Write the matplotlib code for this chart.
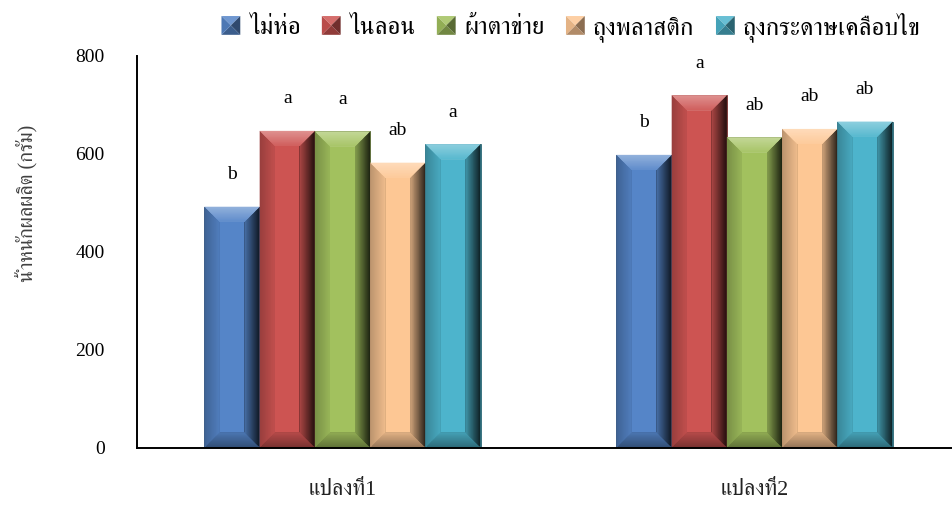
import matplotlib
matplotlib.use("Agg")
import matplotlib.pyplot as plt
import numpy as np
from matplotlib.patches import Polygon, Rectangle
from matplotlib.legend_handler import HandlerBase
from matplotlib.colors import to_rgb

# ---- data -------------------------------------------------------------
plots = ["แปลงที่1", "แปลงที่2"]
treatments = ["ไม่ห่อ", "ไนลอน", "ผ้าตาข่าย", "ถุงพลาสติก", "ถุงกระดาษเคลือบไข"]

no_wrap = [492, 598]
nylon = [647, 720]
mesh_net = [646, 634]
plastic_bag = [582, 651]
waxed_paper_bag = [620, 666]

no_wrap_sig = ["b", "b"]
nylon_sig = ["a", "a"]
mesh_net_sig = ["a", "ab"]
plastic_bag_sig = ["ab", "ab"]
waxed_paper_bag_sig = ["a", "ab"]

yticks = [0, 200, 400, 600, 800]
ylabel = "น้ำหนักผลผลิต (กรัม)"

series = [no_wrap, nylon, mesh_net, plastic_bag, waxed_paper_bag]
sigs = [no_wrap_sig, nylon_sig, mesh_net_sig, plastic_bag_sig, waxed_paper_bag_sig]
colors = ["#5585C8", "#CD5452", "#A2C15E", "#FDC794", "#4DB4CC"]

FONT = ["Liberation Serif", "FreeSerif"]
plt.rcParams["font.family"] = FONT


def mix(c, target, t):
    c = np.array(to_rgb(c))
    target = np.array(to_rgb(target))
    return tuple(c * (1 - t) + target * t)


# ---- figure -----------------------------------------------------------
W, H, DPI = 952, 505, 100
fig = plt.figure(figsize=(W / DPI, H / DPI), dpi=DPI)
left_px, right_px, top_px, bottom_px = 136.5, 960.5, 56.0, 447.5
ax = fig.add_axes([left_px / W, (H - bottom_px) / H,
                   (right_px - left_px) / W, (bottom_px - top_px) / H])

ax.set_xlim(-0.5, len(plots) - 0.5)
ax.set_ylim(0, 800)

bw = 0.134
x = np.arange(len(plots))
n = len(series)
bars_all = []
for j, (vals, col) in enumerate(zip(series, colors)):
    pos = x + (j - (n - 1) / 2) * bw
    bars = ax.bar(pos, vals, width=bw, color=col,
                  edgecolor=mix(col, "black", 0.45), linewidth=0.6, zorder=2)
    bars_all.append((bars, col))
    for xi, v, s in zip(pos, vals, sigs[j]):
        ax.annotate(s, (xi, v), xytext=(0, 23), textcoords="offset points",
                    ha="center", va="center", fontsize=14, color="black")

# bevel shading on each bar, built in pixel space
inv = ax.transData.inverted()
steps = 12
for bars, col in bars_all:
    for r in bars:
        (x0, y0) = ax.transData.transform((r.get_x(), r.get_y()))
        (x1, y1) = ax.transData.transform((r.get_x() + r.get_width(),
                                           r.get_y() + r.get_height()))
        w = min(15.0, (x1 - x0) / 2, (y1 - y0) / 2)
        for k in range(steps):
            d = w * k / steps
            f = 1 - k / steps
            bands = [
                ([(x0 + d, y0 + d), (x1 - d, y0 + d), (x1 - w, y0 + w), (x0 + w, y0 + w)],
                 mix(col, "black", 0.10 + 0.30 * f)),
                ([(x0 + d, y0 + d), (x0 + d, y1 - d), (x0 + w, y1 - w), (x0 + w, y0 + w)],
                 mix(col, "black", 0.05 + 0.20 * f)),
                ([(x1 - d, y1 - d), (x1 - d, y0 + d), (x1 - w, y0 + w), (x1 - w, y1 - w)],
                 mix(col, "black", 0.15 + 0.65 * f)),
                ([(x0 + d, y1 - d), (x1 - d, y1 - d), (x1 - w, y1 - w), (x0 + w, y1 - w)],
                 mix(col, "white", 0.05 + 0.30 * f)),
            ]
            for pts, c in bands:
                ax.add_patch(Polygon(inv.transform(pts), closed=True, facecolor=c,
                                     edgecolor="none", zorder=3))

# ---- axes styling -----------------------------------------------------
for s in ["top", "right"]:
    ax.spines[s].set_visible(False)
for s in ["left", "bottom"]:
    ax.spines[s].set_linewidth(1.4)
    ax.spines[s].set_color("black")
    ax.spines[s].set_zorder(5)

ax.set_yticks(yticks)
ax.set_yticklabels([str(t) for t in yticks], fontsize=14)
ax.set_xticks(x)
ax.set_xticklabels(plots, fontsize=16, color="#222222")
ax.tick_params(axis="y", length=0, pad=23)
ax.tick_params(axis="x", length=0, pad=24)

fig.text(27 / W, (H - 203) / H, ylabel, rotation=90, ha="center", va="center",
         fontsize=14.5, color="#404040")


# ---- legend with bevelled keys -----------------------------------------
class BevelKey(HandlerBase):
    def create_artists(self, legend, orig_handle, xdescent, ydescent,
                       width, height, fontsize, trans):
        base = to_rgb(orig_handle.get_facecolor())
        s = min(width, height)
        bx0 = -xdescent + (width - s) / 2
        by0 = -ydescent + (height - s) / 2
        bx1, by1 = bx0 + s, by0 + s
        cx, cy = (bx0 + bx1) / 2, (by0 + by1) / 2
        arts = []
        tris = [
            ([(bx0, by1), (bx1, by1), (cx, cy)], mix(base, "white", 0.15)),
            ([(bx1, by1), (bx1, by0), (cx, cy)], mix(base, "black", 0.45)),
            ([(bx0, by0), (bx1, by0), (cx, cy)], mix(base, "black", 0.30)),
            ([(bx0, by0), (bx0, by1), (cx, cy)], mix(base, "black", 0.10)),
        ]
        for pts, c in tris:
            arts.append(Polygon(pts, closed=True, facecolor=c, edgecolor="none",
                                transform=trans))
        return arts


handles = [Rectangle((0, 0), 1, 1, facecolor=c) for c in colors]
fig.legend(handles, treatments, loc="center", bbox_to_anchor=(571 / W, (H - 27) / H),
           ncol=5, frameon=False, fontsize=18, handlelength=0.78, handleheight=0.78,
           handletextpad=0.32, columnspacing=0.85,
           handler_map={Rectangle: BevelKey()})

fig.savefig("out.png", dpi=DPI)
